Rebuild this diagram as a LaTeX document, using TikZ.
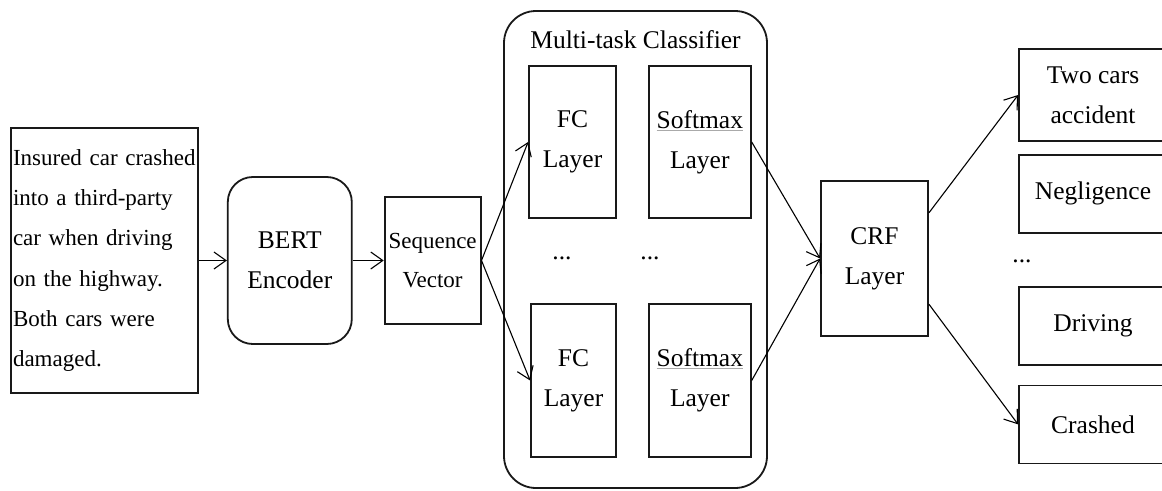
\documentclass[tikz,border=0pt]{standalone}
\usepackage{fontspec}
\setmainfont{Liberation Serif}
\usepackage{tikz}
\usetikzlibrary{arrows.meta, positioning}
\usepackage{xcolor}
\definecolor{boxborder}{RGB}{25,25,25}
\definecolor{spellline}{RGB}{170,170,170}
\tikzset{
    block/.style={rectangle, draw=boxborder, line width=1.8pt, inner sep=0pt,
        align=center, font=\fontsize{25.5}{40}\selectfont},
    roundblock/.style={block, rounded corners=25pt},
    outblock/.style={block, minimum width=148pt, minimum height=78pt},
    dotsnode/.style={inner sep=0pt, anchor=base, font=\fontsize{25.5}{40}\selectfont},
    arrow/.style={-{Straight Barb[length=12pt, width=17pt]}, line width=1.1pt}
}
\newcommand{\smx}{\textcolor{spellline}{\underline{\textcolor{black}{Softmax}}}}

\begin{document}
\begin{tikzpicture}[x=1pt, y=-1pt]

    \path[use as bounding box, clip] (0,0) rectangle (1162,490);

    % input text
    \node[block, minimum width=187pt, minimum height=265pt, text width=183pt, align=left,
        font=\fontsize{23}{40.2}\selectfont] (input) at (104.5,260.5)
        {Insured car crashed\\into a third-party\\car when driving\\on the highway.\\Both cars were\\damaged.};

    \node[roundblock, minimum width=124pt, minimum height=167pt, right=28pt of input] (bert) {BERT\\Encoder};

    \node[block, minimum width=96pt, minimum height=127pt, right=31pt of bert,
        font=\fontsize{23}{39}\selectfont] (seq) {Sequence\\Vector};

    % multi-task classifier
    \node[roundblock, rounded corners=32pt, minimum width=263pt, minimum height=477pt] (clf) at (635.5,249.5) {};
    \node[inner sep=0pt, anchor=base, font=\fontsize{25.5}{40}\selectfont] (clftitle) at (635.5,48) {Multi-task Classifier};

    \node[block, minimum width=87pt, minimum height=152pt] (fca) at (572.5,142) {FC\\Layer};
    \node[block, minimum width=102pt, minimum height=152pt, right=31pt of fca] (sma) {\smx\\Layer};
    \node[block, minimum width=85pt, minimum height=153pt] (fcb) at (573.5,380.5) {FC\\Layer};
    \node[block, minimum width=102pt, minimum height=153pt, right=31pt of fcb] (smb) {\smx\\Layer};

    \node[dotsnode] (dotsa) at (562,259) {...};
    \node[dotsnode] (dotsb) at (650,259) {...};

    \node[block, minimum width=107pt, minimum height=155pt] (crf) at (874.5,258.5) {CRF\\Layer};

    % outputs
    \node[block, minimum width=148pt, minimum height=92pt] (twocars) at (1093,95) {Two cars\\accident};
    \node[outblock, below=12pt of twocars] (neglig) {Negligence};
    \node[outblock, below=52pt of neglig] (driving) {Driving};
    \node[outblock, below=19pt of driving] (crashed) {Crashed};
    \node[dotsnode] (dotsc) at (1022,262) {...};

    \draw[arrow] (input) -- (bert);
    \draw[arrow] (bert) -- (seq);
    \draw[arrow] (seq.east) -- (fca.west);
    \draw[arrow] (seq.east) -- (fcb.west);
    \draw[arrow] (sma.east) -- (crf.west);
    \draw[arrow] (smb.east) -- (crf.west);
    \draw[arrow] (crf.40) -- (twocars.west);
    \draw[arrow] (crf.-40) -- (crashed.west);

\end{tikzpicture}
\end{document}
